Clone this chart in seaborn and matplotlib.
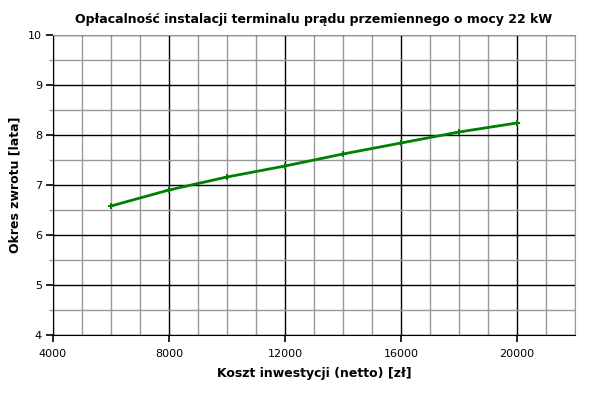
import matplotlib
matplotlib.use('Agg')
import matplotlib.pyplot as plt
import seaborn as sns
import pandas as pd
from matplotlib.ticker import MultipleLocator

koszt = [6000, 8000, 10000, 12000, 14000, 16000, 18000, 20000]
okres = [6.58, 6.90, 7.16, 7.38, 7.62, 7.84, 8.06, 8.24]

df = pd.DataFrame({'koszt': koszt, 'okres': okres})

sns.set_style('ticks')
plt.rcParams['font.family'] = ['DejaVu Sans']
plt.rcParams['text.color'] = 'black'
plt.rcParams['axes.labelcolor'] = 'black'
plt.rcParams['xtick.color'] = 'black'
plt.rcParams['ytick.color'] = 'black'
plt.rcParams['xtick.major.size'] = 5
plt.rcParams['ytick.major.size'] = 5
plt.rcParams['xtick.major.width'] = 1.2
plt.rcParams['ytick.major.width'] = 1.2

fig = plt.figure(figsize=(6, 3.99), dpi=100)
ax = fig.add_axes([53/600, 1-335/399, 522/600, 300/399])

ax.xaxis.set_major_locator(MultipleLocator(4000))
ax.xaxis.set_minor_locator(MultipleLocator(1000))
ax.yaxis.set_major_locator(MultipleLocator(1))
ax.yaxis.set_minor_locator(MultipleLocator(0.5))
ax.grid(which='minor', color='#999999', lw=1)
ax.grid(which='major', color='black', lw=1)
ax.set_axisbelow('line')

sns.lineplot(data=df, x='koszt', y='okres', color='#008000', lw=2,
             marker='P', markersize=4, markeredgewidth=0, ax=ax, zorder=3)

ax.set_xlim(4000, 22000)
ax.set_ylim(4, 10)
for s in ['top', 'right']:
    ax.spines[s].set_color('#999999')
    ax.spines[s].set_zorder(4)
for s in ['left', 'bottom']:
    ax.spines[s].set_color('black')
    ax.spines[s].set_zorder(4)
ax.tick_params(axis='both', which='major', direction='out', labelsize=8)
ax.tick_params(axis='x', which='minor', length=0)
ax.tick_params(axis='y', which='minor', direction='out', length=3, width=1, color='#999999')
ax.tick_params(axis='x', pad=5)
ax.tick_params(axis='y', pad=3)

ax.set_xlabel('Koszt inwestycji (netto) [zł]', fontsize=9, fontweight='bold', labelpad=6)
ax.set_ylabel('Okres zwrotu [lata]', fontsize=9, fontweight='bold', labelpad=5)
ax.set_title('Opłacalność instalacji terminalu prądu przemiennego o mocy 22 kW',
             fontsize=9, fontweight='bold', pad=9)

fig.savefig('out.png', dpi=100)
